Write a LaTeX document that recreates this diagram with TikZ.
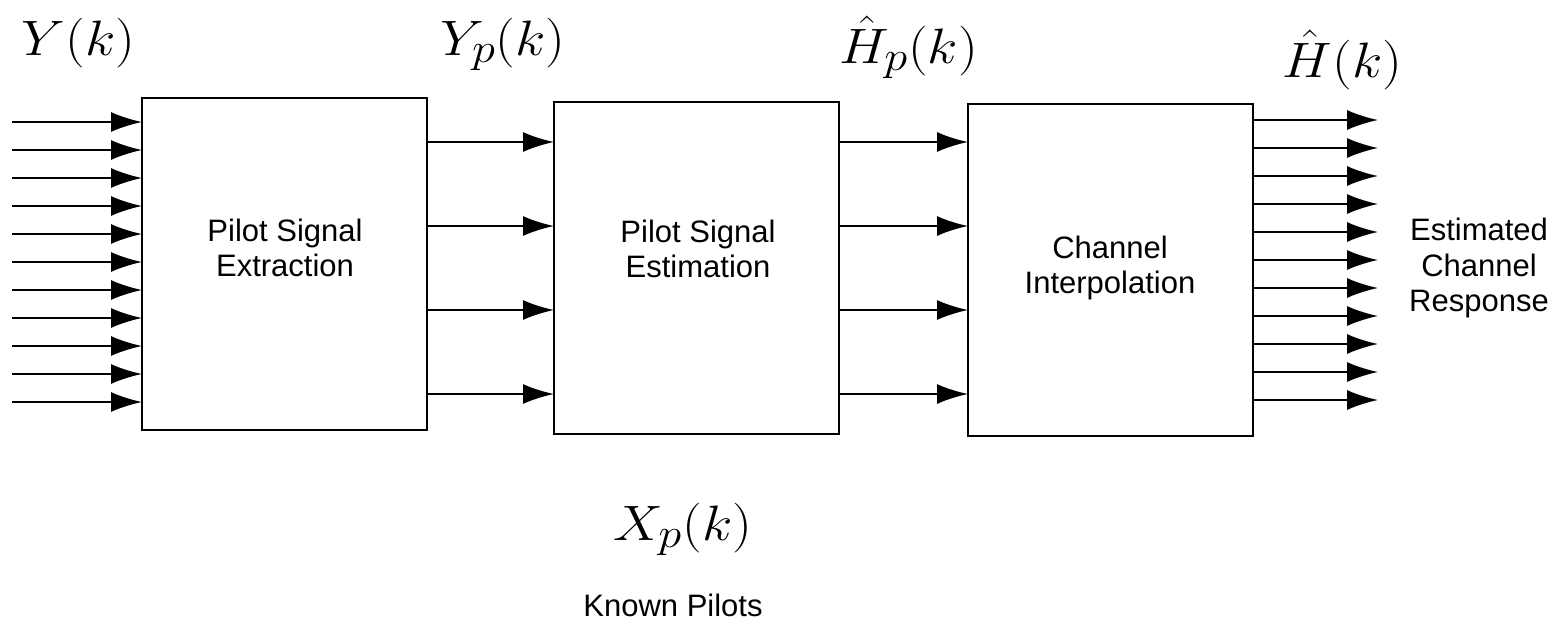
\documentclass[tikz,border=0pt]{standalone}
\usepackage{graphicx}
\usepackage{fontspec}
\usetikzlibrary{arrows.meta}
\newfontfamily\lblfam{Liberation Sans}
\newcommand\lblfont{\lblfam\fontsize{15.5}{17.75}\selectfont}
\newcommand\mathsz{\fontsize{27.25}{30}\selectfont}
\newcommand\wm[1]{\scalebox{1.12}[1]{$#1$}}
\tikzset{
  blk/.style={draw, line width=1pt, inner sep=0pt, outer sep=0pt,
              minimum width=142.5pt, minimum height=166pt},
  lbl/.style={font=\lblfont, align=center, inner sep=0pt},
  mlbl/.style={font=\mathsz, inner sep=0pt, anchor=base},
  arr/.style={line width=1pt, -{Latex[length=15.5pt,width=10pt]}}
}
\begin{document}
\begin{tikzpicture}[x=0.5pt, y=-0.5pt]
\useasboundingbox (0,0) rectangle (1562,622);
% blocks
\node[blk] (b1) at (284.5,264) {};
\node[blk] (b2) at (696.5,268) {};
\node[blk] (b3) at (1110.5,270) {};
% block texts
\node[lbl] (t1) at (285,248) {Pilot Signal\\Extraction};
\node[lbl] (t2) at (698,249) {Pilot Signal\\Estimation};
\node[lbl] (t3) at (1110,268) {Channel\\Interpolation};
% input arrows
\foreach \i in {0,...,10} {
  \coordinate (in\i) at (12,{122+28*\i});
  \draw[arr] (in\i) -- (in\i -| b1.west);
}
% middle arrows
\foreach \y in {142,226,310,394} {
  \coordinate (ma\y) at (490,\y);
  \coordinate (mb\y) at (904,\y);
  \draw[arr] (ma\y -| b1.east) -- (ma\y -| b2.west);
  \draw[arr] (mb\y -| b2.east) -- (mb\y -| b3.west);
}
% output arrows
\foreach \i in {0,...,10} {
  \coordinate (out\i) at (1378,{120+28*\i});
  \draw[arr] (out\i -| b3.east) -- (out\i);
}
% math labels
\node[mlbl] (lY)  at (78.5,55)  {\wm{Y(k)}};
\node[mlbl] (lYp) at (503,55)   {\wm{Y_p(k)}};
\node[mlbl] (lHp) at (908.5,63) {\wm{\hat{H}_p(k)}};
\node[mlbl] (lH)  at (1342.5,77) {\wm{\hat{H}(k)}};
\node[mlbl] (lXp) at (682.5,540) {\wm{X_p(k)}};
% text labels
\node[lbl, anchor=base] (kp) at (673,616) {Known Pilots};
\node[lbl] (ecr) at (1479,268) {Estimated\\Channel\\Response};
\end{tikzpicture}
\end{document}
